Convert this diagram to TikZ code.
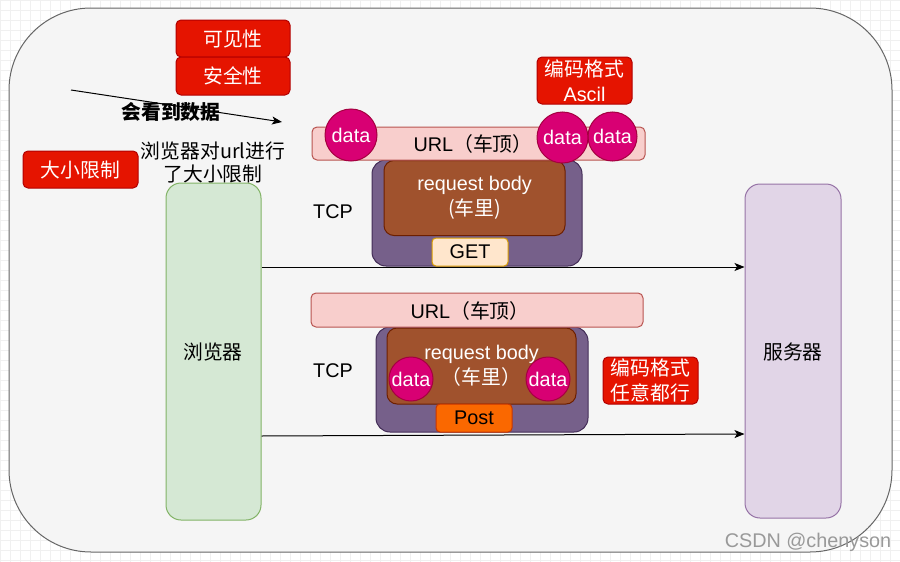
\documentclass[tikz,border=0pt]{standalone}
\usepackage{fontspec}
\setmainfont{Liberation Sans}
\newfontfamily\cjk{Noto Sans CJK SC}
\newcommand\zh[1]{{\cjk #1}}
\usetikzlibrary{arrows.meta}
\definecolor{outerfill}{HTML}{F5F5F5}
\definecolor{outerline}{HTML}{666666}
\definecolor{redfill}{HTML}{E51400}
\definecolor{redline}{HTML}{B20000}
\definecolor{pinkfill}{HTML}{F8CECC}
\definecolor{pinkline}{HTML}{B85450}
\definecolor{purpfill}{HTML}{76608A}
\definecolor{purpline}{HTML}{432D57}
\definecolor{brownfill}{HTML}{A0522D}
\definecolor{brownline}{HTML}{6D1F00}
\definecolor{getfill}{HTML}{FFE6CC}
\definecolor{getline}{HTML}{D79B00}
\definecolor{postfill}{HTML}{FA6800}
\definecolor{postline}{HTML}{C73500}
\definecolor{datafill}{HTML}{D80073}
\definecolor{dataline}{HTML}{A50040}
\definecolor{greenfill}{HTML}{D5E8D4}
\definecolor{greenline}{HTML}{82B366}
\definecolor{lavfill}{HTML}{E1D5E7}
\definecolor{lavline}{HTML}{9673A6}
\tikzset{
  base/.style={font=\fontsize{19.8}{25}\selectfont, inner sep=0pt, align=center, line width=1pt},
  box/.style={base, draw, rounded corners=#1},
  box/.default=5pt,
  redbox/.style={box, fill=redfill, draw=redline, text=white},
  pinkbox/.style={box, fill=pinkfill, draw=pinkline},
  purpbox/.style={box=14pt, fill=purpfill, draw=purpline},
  brownbox/.style={box=10pt, fill=brownfill, draw=brownline, text=white},
  getbox/.style={box=4pt, fill=getfill, draw=getline},
  postbox/.style={box=4pt, fill=postfill, draw=postline},
  databall/.style={base, circle, fill=datafill, draw=dataline, text=white},
  plain/.style={base},
  arr/.style={line width=1pt, -{Stealth[length=10pt,width=8pt,inset=2.5pt]}},
}
\begin{document}
\begin{tikzpicture}[x=1pt,y=-1pt]
\useasboundingbox (0,0) rectangle (900,562);
\fill[white] (0,0) rectangle (900,562);
\draw[black!6, line width=0.6pt, step=10pt] (0,0) grid (900,562);
% outer frame
\node[base, draw=outerline, fill=outerfill, rounded corners=82pt,
      minimum width=883pt, minimum height=544pt] (frame) at (450.5,280) {};
% top labels
\node[redbox, minimum width=114pt, minimum height=37pt] (vis) at (233,38.5) {\zh{可见性}};
\node[redbox, minimum width=114pt, minimum height=38pt] (sec) at (233,76) {\zh{安全性}};
\node[redbox, minimum width=115pt, minimum height=37pt] (size) at (80.5,169.5) {\zh{大小限制}};
\node[redbox, minimum width=95pt, minimum height=47pt] (ascii) at (584.5,80.5) {\zh{编码格式}\\Ascil};
% seeing-data arrow
\coordinate (seeA) at (71,90);
\coordinate (seeB) at (282,122);
\draw[arr] (seeA) -- (seeB);
\node[plain, font=\fontsize{19.8}{25}\selectfont\cjk\bfseries] (see) at (171,112) {会看到数据};
\node[plain, font=\fontsize{19.8}{23}\selectfont\cjk] (urlnote) at (213,162.5) {浏览器对url进行\\了大小限制};
% browser and server
\node[box=15pt, fill=greenfill, draw=greenline, minimum width=95pt, minimum height=337pt] (br) at (213.5,351.5) {};
\node[plain] at (213,352) {\zh{浏览器}};
\node[box=15pt, fill=lavfill, draw=lavline, minimum width=96pt, minimum height=334pt] (sv) at (793,351) {};
\node[plain] at (793,352) {\zh{服务器}};
% GET group
\node[plain] (tcp1) at (333,212) {TCP};
\node[purpbox, minimum width=210pt, minimum height=106pt] (car1) at (477,213) {};
\node[brownbox, minimum width=181pt, minimum height=75pt] (body1) at (474.5,198) {request body\\\zh{(车里)}};
\node[getbox, minimum width=76pt, minimum height=28pt] (get) at (470,252) {GET};
\node[pinkbox, minimum width=333pt, minimum height=33pt] (url1) at (478.5,143.5) {};
\node[plain] at (473,144) {URL\zh{（车顶）}};
\node[databall, minimum size=52pt] (d1) at (351,135) {data};
\node[databall, minimum size=49pt] (d3) at (612.5,136.5) {data};
\node[databall, minimum size=51pt] (d2) at (562.5,137.5) {data};
% POST group
\node[plain] (tcp2) at (333,371) {TCP};
\node[purpbox, minimum width=212pt, minimum height=105pt] (car2) at (482,379.5) {};
\node[brownbox, minimum width=189pt, minimum height=76pt] (body2) at (481.5,366) {request body\\\zh{（车里）}};
\node[postbox, minimum width=76pt, minimum height=28pt] (post) at (474,418) {Post};
\node[pinkbox, minimum width=332pt, minimum height=34pt] (url2) at (477,310) {};
\node[plain] at (470,310.5) {URL\zh{（车顶）}};
\node[databall, minimum size=44pt] (d4) at (411,379) {data};
\node[databall, minimum size=44pt] (d5) at (548,379) {data};
\node[redbox, minimum width=95pt, minimum height=47pt] (any) at (650.5,380.5) {\zh{编码格式}\\\zh{任意都行}};
% connectors
\draw[arr] ([yshift=84.5pt]br.east) -- ([yshift=84pt]sv.west);
\draw[arr] ([yshift=-84.5pt]br.east) -- ([yshift=-83pt]sv.west);
% watermark
\node[plain, text=black!40] (wm) at (808,542) {CSDN @chenyson};
\end{tikzpicture}
\end{document}
